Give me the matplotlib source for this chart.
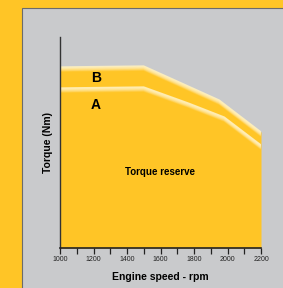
import matplotlib.pyplot as plt
import numpy as np
from matplotlib.patches import Rectangle

# curve values (engine speed rpm, torque in arbitrary units)
rpm_b = [1000, 1500, 1950, 2200]
torque_b = [181, 182, 148, 116]
rpm_a = [1000, 1500, 1750, 1980, 2200]
torque_a = [160, 161, 146, 131, 103]
xticks = [1000, 1200, 1400, 1600, 1800, 2000, 2200]

yellow = '#FFC526'
grey = '#C9CACC'
light = '#FFF1C0'

plt.rcParams['font.family'] = ['Liberation Sans Narrow', 'Liberation Sans', 'DejaVu Sans']

fig = plt.figure(figsize=(2.83, 2.88), dpi=100)
fig.patch.set_facecolor(yellow)

# grey panel behind the chart
bg = fig.add_axes([0, 0, 1, 1], zorder=0)
bg.set_axis_off()
bg.set_xlim(0, 283)
bg.set_ylim(288, 0)
bg.add_patch(Rectangle((22, 8), 270, 290, facecolor=grey, edgecolor='#6b6b6b', linewidth=0.8))

ax = fig.add_axes([60 / 283, 40 / 288, 201 / 283, 211 / 288], zorder=1)
ax.set_facecolor('none')

xs = np.linspace(1000, 2200, 400)
yb = np.interp(xs, rpm_b, torque_b)
ya = np.interp(xs, rpm_a, torque_a)

ax.fill_between(xs, 0, yb, color=yellow, linewidth=0, zorder=1)

# soft highlight under each edge
for y in (yb, ya):
    for i, a in enumerate(np.linspace(0.85, 0.0, 8)):
        ax.plot(xs, y - i * 0.7, color=light, alpha=a, lw=1.0, zorder=2,
                solid_capstyle='butt')

ax.set_xlim(1000, 2200)
ax.set_ylim(0, 211)
ax.spines['top'].set_visible(False)
ax.spines['right'].set_visible(False)
ax.spines['left'].set_color('#333333')
ax.spines['bottom'].set_color('#222222')
ax.spines['left'].set_linewidth(1.0)
ax.spines['bottom'].set_linewidth(1.2)
ax.set_yticks([])
ax.set_xticks(np.arange(1000, 2201, 100), minor=True)
ax.set_xticks(xticks)
ax.set_xticklabels([str(t) for t in xticks], fontsize=5, color='#222222')
ax.tick_params(axis='x', which='both', length=4, width=0.9, color='#222222', pad=2)

ax.set_xlabel('Engine speed - rpm', fontsize=7.5, fontweight='bold', labelpad=6)
ax.set_ylabel('Torque (Nm)', fontsize=7.5, fontweight='bold', labelpad=5)

ax.text(1215, 170, 'B', fontsize=10, fontweight='bold', ha='center', va='center', zorder=3)
ax.text(1215, 143, 'A', fontsize=10, fontweight='bold', ha='center', va='center', zorder=3)
ax.text(1595, 76, 'Torque reserve', fontsize=7, fontweight='bold', ha='center', va='center', zorder=3)

fig.savefig('out.png', dpi=100, facecolor=fig.get_facecolor())
